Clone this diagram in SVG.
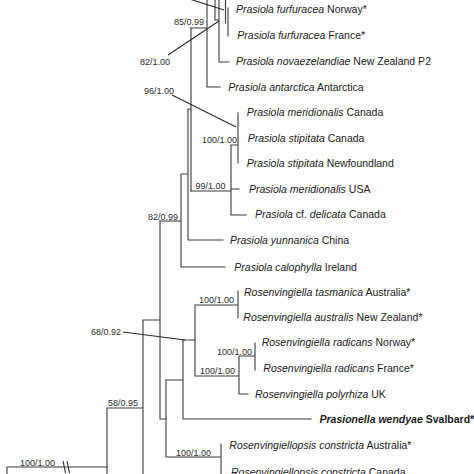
<svg xmlns="http://www.w3.org/2000/svg" width="474" height="474" viewBox="0 0 474 474">
<style>
.br{stroke:#3a3a3a;stroke-width:1.1;fill:none;stroke-linecap:square}
.ld{stroke:#2a2a2a;stroke-width:1.1;fill:none}
.tx{font-family:"Liberation Sans",Arial,sans-serif;font-size:10.5px;fill:#1a1a1a}
.sp{font-family:"Liberation Sans",Arial,sans-serif;font-size:9px;fill:#2a2a2a}
.b{font-weight:bold}
</style>
<rect width="474" height="474" fill="#ffffff"/>
<g id="connectors">
<!-- top clade (partly cut) -->
<path class="br" d="M207,-10V87H220M191,28H207"/>
<path class="br" d="M215,-5V20H219M219,-5V62H229"/>
<path class="br" d="M225.5,-5V23M228,8V36"/>
<path class="ld" d="M180,-4L224,10"/>
<!-- meridionalis/stipitata clade -->
<path class="br" d="M238,113V163M231,145H238M231,145V215H246M231,189H239M191,191H231"/>
<!-- backbone -->
<path class="br" d="M191,28V191M188,109H191M188,109V240H223M181,174H188M181,174V267H225M160,221H181"/>
<path class="br" d="M160,221V419H166M143,320H160M143,320V480M107,408H143M107,408V480"/>
<path class="br" d="M7,467H107M7,467V480"/>
<path class="ld" d="M63,461L65.5,473M67,461L69.5,473"/>
<!-- Rosenvingiella / Prasionella / Rosenvingiellopsis -->
<path class="br" d="M166,380V457H221M221,444V480M166,380H183M183,340V419H311M183,340H195"/>
<path class="br" d="M195,305V376M195,305H238M238,291V318M195,376H239M239,356V394H248M239,356H255M255,343V370"/>
<!-- leader lines -->
<path class="ld" d="M168,55L219,21M172,95L236,127M123,332L185,340"/>
</g>
<g id="support">
<text class="sp" x="174" y="24.5">85/0.99</text>
<text class="sp" x="140" y="64.5">82/1.00</text>
<text class="sp" x="144" y="93.5">96/1.00</text>
<text class="sp" x="202" y="142.5">100/1.00</text>
<text class="sp" x="195.5" y="189">99/1.00</text>
<text class="sp" x="148" y="219.5">82/0.99</text>
<text class="sp" x="199" y="303">100/1.00</text>
<text class="sp" x="91" y="334.5">68/0.92</text>
<text class="sp" x="217" y="355">100/1.00</text>
<text class="sp" x="200" y="373.5">100/1.00</text>
<text class="sp" x="108" y="405.5">58/0.95</text>
<text class="sp" x="176" y="456">100/1.00</text>
<text class="sp" x="20" y="465.5">100/1.00</text>
</g>
<g id="leaf-furfuracea-norway"><text class="tx" x="236" y="13"><tspan font-style="italic">Prasiola furfuracea</tspan> Norway*</text></g>
<g id="leaf-furfuracea-france"><text class="tx" x="237.3" y="39"><tspan font-style="italic">Prasiola furfuracea</tspan> France*</text></g>
<g id="leaf-novaezelandiae"><text class="tx" x="236" y="65"><tspan font-style="italic">Prasiola novaezelandiae</tspan> New Zealand P2</text></g>
<g id="leaf-antarctica"><text class="tx" x="228.3" y="91"><tspan font-style="italic">Prasiola antarctica</tspan> Antarctica</text></g>
<g id="leaf-meridionalis-canada"><text class="tx" x="246.7" y="116"><tspan font-style="italic">Prasiola meridionalis</tspan> Canada</text></g>
<g id="leaf-stipitata-canada"><text class="tx" x="247.7" y="141.5"><tspan font-style="italic">Prasiola stipitata</tspan> Canada</text></g>
<g id="leaf-stipitata-newfoundland"><text class="tx" x="246.7" y="166.5"><tspan font-style="italic">Prasiola stipitata</tspan> Newfoundland</text></g>
<g id="leaf-meridionalis-usa"><text class="tx" x="249" y="193"><tspan font-style="italic">Prasiola meridionalis</tspan> USA</text></g>
<g id="leaf-delicata"><text class="tx" x="255" y="218"><tspan font-style="italic">Prasiola</tspan> cf. <tspan font-style="italic">delicata</tspan> Canada</text></g>
<g id="leaf-yunnanica"><text class="tx" x="230" y="244"><tspan font-style="italic">Prasiola yunnanica</tspan> China</text></g>
<g id="leaf-calophylla"><text class="tx" x="234.3" y="270.5"><tspan font-style="italic">Prasiola calophylla</tspan> Ireland</text></g>
<g id="leaf-tasmanica"><text class="tx" x="244" y="296"><tspan font-style="italic">Rosenvingiella tasmanica</tspan> Australia*</text></g>
<g id="leaf-australis"><text class="tx" x="243.3" y="320.5"><tspan font-style="italic">Rosenvingiella australis</tspan> New Zealand*</text></g>
<g id="leaf-radicans-norway"><text class="tx" x="261.7" y="345.5"><tspan font-style="italic">Rosenvingiella radicans</tspan> Norway*</text></g>
<g id="leaf-radicans-france"><text class="tx" x="263.3" y="372"><tspan font-style="italic">Rosenvingiella radicans</tspan> France*</text></g>
<g id="leaf-polyrhiza"><text class="tx" x="255" y="398"><tspan font-style="italic">Rosenvingiella polyrhiza</tspan> UK</text></g>
<g id="leaf-prasionella"><text class="tx b" x="319.5" y="422.5"><tspan font-style="italic">Prasionella wendyae</tspan> Svalbard*</text></g>
<g id="leaf-constricta-australia"><text class="tx" x="229.3" y="449"><tspan font-style="italic">Rosenvingiellopsis constricta</tspan> Australia*</text></g>
<g id="leaf-constricta-canada"><text class="tx" x="231" y="475.5"><tspan font-style="italic">Rosenvingiellopsis constricta</tspan> Canada</text></g>
</svg>
